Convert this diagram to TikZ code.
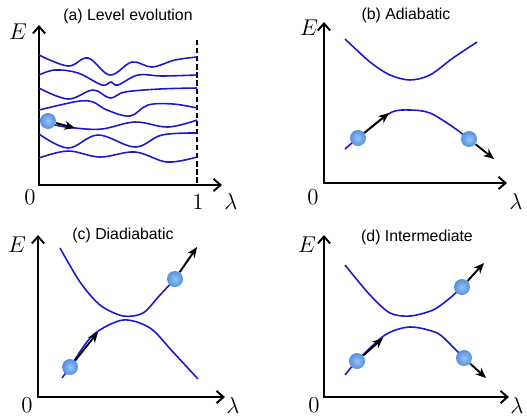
\RequirePackage{fix-cm}
\documentclass[tikz,border=0pt]{standalone}
\usepackage{fontspec}
\setmainfont{Liberation Sans}
\usetikzlibrary{arrows.meta}
\definecolor{lvlblue}{RGB}{25,25,205}
\definecolor{beadblue}{RGB}{85,145,220}
\definecolor{beadlight}{RGB}{150,195,245}

\begin{document}
\begin{tikzpicture}[x=0.02cm, y=-0.02cm,
    lvl/.style={lvlblue, line width=0.9pt},
    axis/.style={{Straight Barb[length=4pt,width=7pt]}-{Straight Barb[length=4pt,width=7pt]}, line width=1.1pt},
    mv/.style={-{Stealth[length=6pt,width=5pt]}, line width=1.1pt},
    bead/.style={circle, inner sep=0pt, minimum size=0.32cm, shading=radial,
                 inner color=beadlight, outer color=beadblue},
    ttl/.style={font=\fontsize{9}{11}\selectfont},
    lab/.style={font=\fontsize{13}{15}\selectfont, inner sep=0pt}]
  \useasboundingbox (0,0) rectangle (527,417);

  % (a) level evolution
  \coordinate (eA) at (39,25);
  \coordinate (lA) at (222,185);
  \draw[axis] (eA) |- (lA);
  \node[lab] (EA) at (18,32) {$E$};
  \node[lab] (zA) at (30,197) {$0$};
  \node[lab] (oneA) at (198,202) {$1$};
  \node[lab] (lamA) at (231,202) {$\lambda$};
  \node[ttl] (tA) at (128,16) {(a) Level evolution};
  \draw[line width=1pt, dash pattern=on 3pt off 1.6pt] (197,40) -- (197,185);
  \draw[lvl] plot[smooth, tension=0.6] coordinates {(39,55) (68,66) (88,58) (110,75) (132,62) (152,67) (175,60) (197,57)};
  \draw[lvl] plot[smooth, tension=0.6] coordinates {(39,75) (55,70) (78,73) (102,85) (111,82) (118,85) (138,75) (162,76) (197,75)};
  \draw[lvl] plot[smooth, tension=0.6] coordinates {(39,88) (68,99) (93,90) (110,98) (125,92) (160,89) (197,88)};
  \draw[lvl] plot[smooth, tension=0.6] coordinates {(39,110) (60,105) (80,101) (93,102) (107,110) (130,116) (148,105) (173,104) (197,108)};
  \draw[lvl] plot[smooth, tension=0.6] coordinates {(39,119) (55,125) (75,128) (102,129) (135,122) (168,127) (197,120)};
  \draw[lvl] plot[smooth, tension=0.6] coordinates {(39,134) (68,148) (98,135) (135,147) (162,135) (197,133)};
  \draw[lvl] plot[smooth, tension=0.6] coordinates {(39,158) (68,151) (100,157) (135,152) (167,162) (197,157)};
  \node[bead] (bA) at (48,121) {};
  \coordinate (mA) at (75,128);
  \draw[mv] (bA) -- (mA);

  % (b) adiabatic
  \coordinate (eB) at (324,22);
  \coordinate (lB) at (507,183);
  \draw[axis] (eB) |- (lB);
  \node[lab] (EB) at (309,28) {$E$};
  \node[lab] (zB) at (313,197) {$0$};
  \node[lab] (lamB) at (516,202) {$\lambda$};
  \node[ttl] (tB) at (406,15) {(b) Adiabatic};
  \draw[lvl] plot[smooth] coordinates {(345,39) (370,62) (390,75) (410,80) (430,75) (453,58) (477,42)};
  \draw[lvl] plot[smooth] coordinates {(345,149) (358,138) (390,113) (410,110) (430,113) (453,127) (469,139)};
  \node[bead] (bB1) at (358,138) {};
  \node[bead] (bB2) at (469,139) {};
  \coordinate (mB1) at (389,113);
  \coordinate (mB2) at (494,159);
  \draw[mv] (bB1) -- (mB1);
  \draw[mv] (bB2) -- (mB2);

  % (c) diadiabatic
  \coordinate (eC) at (38,235);
  \coordinate (lC) at (225,397);
  \draw[axis] (eC) |- (lC);
  \node[lab] (EC) at (17,245) {$E$};
  \node[lab] (zC) at (27,405) {$0$};
  \node[lab] (lamC) at (233,406) {$\lambda$};
  \node[ttl] (tC) at (123,235) {(c) Diadiabatic};
  \draw[lvl] plot[smooth] coordinates {(60,248) (80,282) (100,305) (123,316) (143,313) (160,295) (175,279)};
  \draw[lvl] plot[smooth] coordinates {(62,378) (70,367) (93,335) (123,320) (150,328) (173,352) (198,379)};
  \node[bead] (bC1) at (70,367) {};
  \node[bead] (bC2) at (175,279) {};
  \coordinate (mC1) at (98,332);
  \coordinate (mC2) at (197,247);
  \draw[mv] (bC1) -- (mC1);
  \draw[mv] (bC2) -- (mC2);

  % (d) intermediate
  \coordinate (eD) at (324,235);
  \coordinate (lD) at (509,397);
  \draw[axis] (eD) |- (lD);
  \node[lab] (ED) at (307,245) {$E$};
  \node[lab] (zD) at (314,405) {$0$};
  \node[lab] (lamD) at (517,406) {$\lambda$};
  \node[ttl] (tD) at (417,237) {(d) Intermediate};
  \draw[lvl] plot[smooth] coordinates {(345,265) (370,295) (390,313) (410,316) (433,310) (450,298) (462,287)};
  \draw[lvl] plot[smooth] coordinates {(345,375) (357,361) (385,335) (410,327) (437,333) (453,347) (464,358)};
  \node[bead] (bD1) at (357,361) {};
  \node[bead] (bD2) at (462,287) {};
  \node[bead] (bD3) at (464,358) {};
  \coordinate (mD1) at (383,338);
  \coordinate (mD2) at (484,263);
  \coordinate (mD3) at (486,378);
  \draw[mv] (bD1) -- (mD1);
  \draw[mv] (bD2) -- (mD2);
  \draw[mv] (bD3) -- (mD3);
\end{tikzpicture}
\end{document}
